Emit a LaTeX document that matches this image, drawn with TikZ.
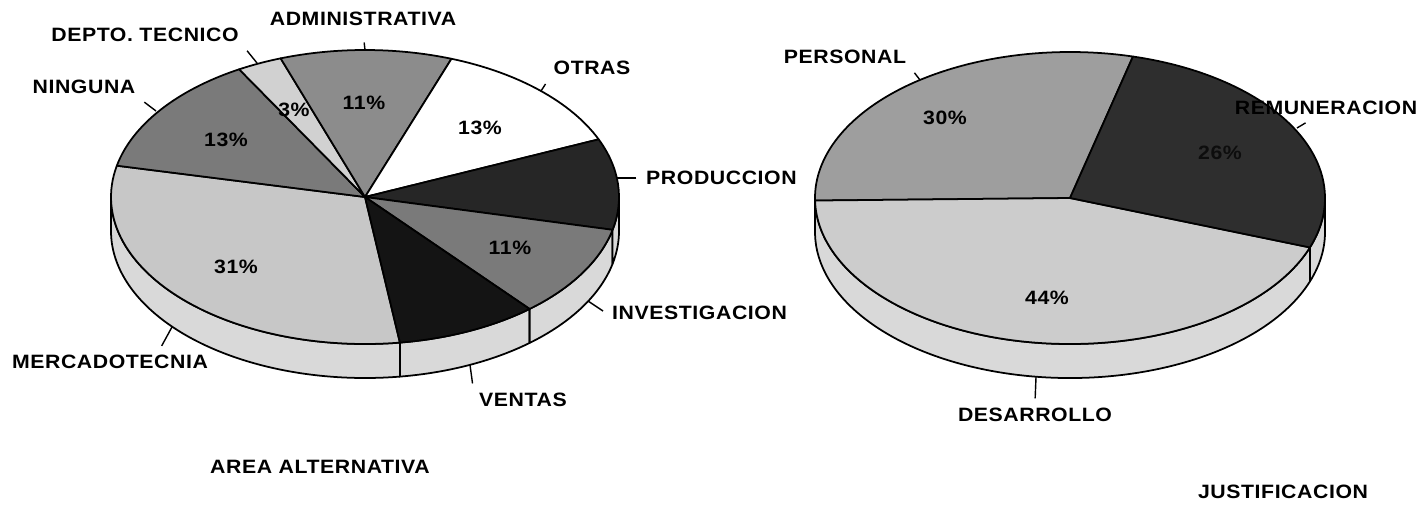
\documentclass[tikz,border=0pt]{standalone}
\usepackage{fontspec}
\setmainfont{Liberation Sans}[FakeStretch=1.1,LetterSpace=3]
\begin{document}
\begin{tikzpicture}[x=0.02cm, y=0.02cm,
  lbl/.style={font=\bfseries\fontsize{11}{13}\selectfont},
  face/.style={draw=black, line width=1pt, line join=round},
  leader/.style={line width=0.8pt, shorten <=2pt}]
\useasboundingbox (0,0) rectangle (1425,505);

% area alternativa
\begin{scope}[shift={(365,308)}]
\foreach \a/\b in {180/277.9, 277.9/310.4, 310.4/347.1, 347.1/360}
  \filldraw[face, fill=black!15] ({254*cos(\a)},{147*sin(\a)}) arc (\a:\b:254 and 147)
    -- ({254*cos(\b)},{147*sin(\b)-34}) arc (\b:\a:254 and 147) -- cycle;
\foreach \a/\b/\c in {167.7/277.9/black!22, 119.7/167.7/black!52, 109.4/119.7/black!18,
    70.1/109.4/black!45, 23.1/70.1/white, -12.9/23.1/black!85, -49.6/-12.9/black!52,
    -82.1/-49.6/black!92}
  \filldraw[face, fill=\c] (0,0) -- (\a:254 and 147) arc (\a:\b:254 and 147) -- cycle;
\end{scope}

% justificacion
\begin{scope}[shift={(1070,307)}]
\foreach \a/\b in {180/181, 181/340.2, 340.2/360}
  \filldraw[face, fill=black!15] ({255*cos(\a)},{146*sin(\a)}) arc (\a:\b:255 and 146)
    -- ({255*cos(\b)},{146*sin(\b)-34}) arc (\b:\a:255 and 146) -- cycle;
\foreach \a/\b/\c in {75.7/181/black!38, 181/340.2/black!20, -19.8/75.7/black!82}
  \filldraw[face, fill=\c] (0,0) -- (\a:255 and 146) arc (\a:\b:255 and 146) -- cycle;
\end{scope}

% porcentajes
\node[lbl] (pNinguna) at (226,365) {13\%};
\node[lbl] (pDepto) at (294,395) {3\%};
\node[lbl] (pAdmin) at (364,402) {11\%};
\node[lbl] (pOtras) at (480,377) {13\%};
\node[lbl] (pMerc) at (236,238) {31\%};
\node[lbl] (pInvest) at (510,257) {11\%};
\node[lbl] (pPersonal) at (945,387) {30\%};
\node[lbl, text=black!95] (pRemun) at (1220,352) {26\%};
\node[lbl] (pDesarrollo) at (1047,207) {44\%};

% etiquetas
\node[lbl] (depto) at (145,470) {DEPTO. TECNICO};
\node[lbl] (admin) at (363,486) {ADMINISTRATIVA};
\node[lbl] (otras) at (592,437) {OTRAS};
\node[lbl] (ninguna) at (84,418) {NINGUNA};
\node[lbl, anchor=west] (produccion) at (640,327) {PRODUCCION};
\node[lbl, anchor=west] (investigacion) at (606,192) {INVESTIGACION};
\node[lbl] (mercadotecnia) at (110,143) {MERCADOTECNIA};
\node[lbl] (ventas) at (523,105) {VENTAS};
\node[lbl] (personal) at (845,448) {PERSONAL};
\node[lbl] (remuneracion) at (1326,397) {REMUNERACION};
\node[lbl] (desarrollo) at (1035,90) {DESARROLLO};
\node[lbl] (areaalt) at (320,38) {AREA ALTERNATIVA};
\node[lbl] (justif) at (1283,13) {JUSTIFICACION};

\coordinate (rDepto) at (257,442);
\coordinate (rAdmin) at (365,455);
\coordinate (rOtras) at (541,414);
\coordinate (rNinguna) at (156,394);
\coordinate (rProd) at (617,327);
\coordinate (rInvest) at (588,204);
\coordinate (rMerc) at (172,178);
\coordinate (rVentas) at (470,140);
\coordinate (rPersonal) at (920,425);
\coordinate (rRemun) at (1297,377);
\coordinate (rDesarrollo) at (1036,128);

\draw[leader] (depto.south east) -- (rDepto);
\draw[leader, shorten <=6pt] (admin.south) -- (rAdmin);
\draw[leader] (otras.south west) -- (rOtras);
\draw[leader] (ninguna.south east) -- (rNinguna);
\draw[leader] (produccion.west) -- (rProd);
\draw[leader] (investigacion.west) -- (rInvest);
\draw[leader] ([xshift=1cm]mercadotecnia.north) -- (rMerc);
\draw[leader] (ventas.north west) -- (rVentas);
\draw[leader] (personal.south east) -- (rPersonal);
\draw[leader] ([xshift=1.6cm]remuneracion.south west) -- (rRemun);
\draw[leader] (desarrollo.north) -- (rDesarrollo);
\end{tikzpicture}
\end{document}
